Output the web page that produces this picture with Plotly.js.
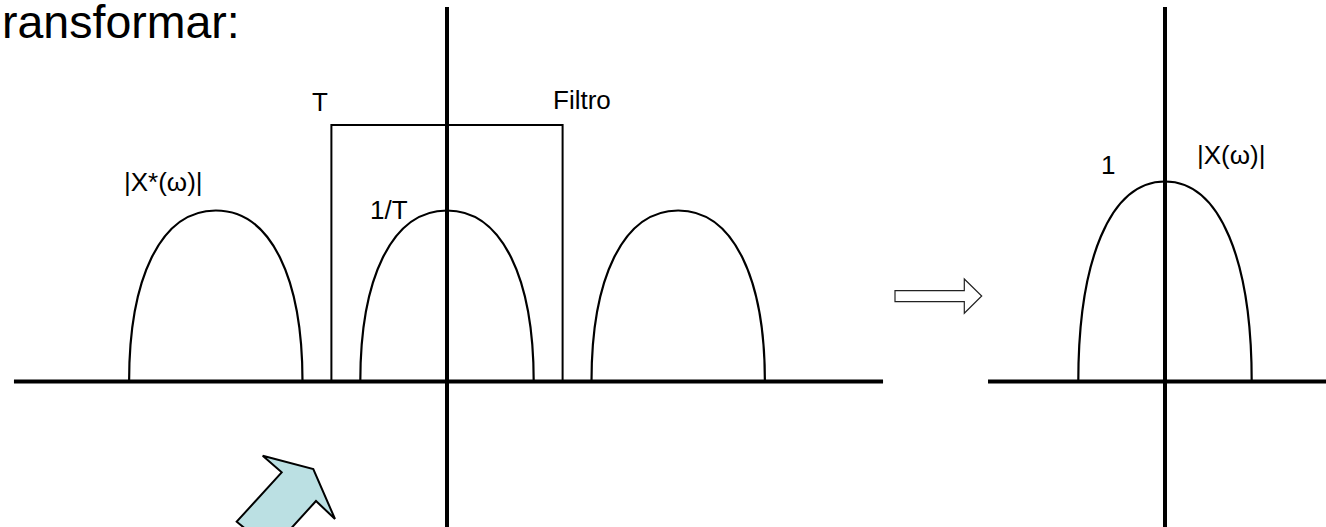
<!DOCTYPE html>
<html><head><meta charset="utf-8">
<script src="https://cdn.plot.ly/plotly-3.0.1.min.js"></script>
<style>html,body{margin:0;padding:0;background:#fff;overflow:hidden}</style>
</head><body><div id="chart" style="width:1326px;height:527px"></div>
<script>
// ---- data (diagram units) ----
// left: sampled spectrum |X*(w)| -> replicas
const replicaCenters = [-2, 0, 2];
const replicaHalfWidth = 0.75;
const replicaHeight = 1;          // 1/T
const filterEdges = [-1, 1];      // ideal low-pass filter
const filterGain = 1.5;           // T
// right: recovered spectrum |X(w)|
const recoveredCenters = [0];
const recoveredHalfWidth = 0.75;
const recoveredHeight = 1;        // 1
// axis line extents
const leftHAxis = [-3.746, 3.772];
const leftVAxis = [-0.9, 2.19];
const rightHAxis = [-1.531, 1.5];
const rightVAxis = [-0.8, 1.8725];
// texts
const titleText = "ransformar:";
const labelTexts = ["T", "Filtro", "1/T", "|X*(\u03c9)|", "1", "|X(\u03c9)|"];

// ---- layout helpers ----
const W = 1326, H = 527;
const SX = 115.6;                 // px per unit, x
const LY = 171, RY = 200;         // px per unit, y (left/right)
const OX_L = 447, OX_R = 1165, OY = 381.5;
const P = (px, py) => [px / W, 1 - py / H];

const FONT = "Liberation Sans, Arial, sans-serif";
const black = "#000";

const traces = [];
function line(x, y, w, xa, ya) {
  traces.push({type: "scatter", mode: "lines", x: x, y: y, xaxis: xa, yaxis: ya,
    line: {color: black, width: w}, hoverinfo: "skip"});
}
// filter rectangle
line([filterEdges[0], filterEdges[0], filterEdges[1], filterEdges[1]],
     [0, filterGain, filterGain, 0], 2, "x", "y");
// axes
line(leftHAxis, [0, 0], 4, "x", "y");
line([0, 0], leftVAxis, 4, "x", "y");
line(rightHAxis, [0, 0], 4, "x2", "y2");
line([0, 0], rightVAxis, 4, "x2", "y2");

function arch(c, w, h) {
  const a = 0.6, b = 0.64;
  return `M${c - w},0 C${c - w},${a * h} ${c - b * w},${h} ${c},${h} C${c + b * w},${h} ${c + w},${a * h} ${c + w},0`;
}
const shapes = [];
replicaCenters.forEach(c => shapes.push({type: "path", xref: "x", yref: "y",
  path: arch(c, replicaHalfWidth, replicaHeight), line: {color: black, width: 2.2}, layer: "below"}));
recoveredCenters.forEach(c => shapes.push({type: "path", xref: "x2", yref: "y2",
  path: arch(c, recoveredHalfWidth, recoveredHeight), line: {color: black, width: 2.2}, layer: "below"}));

// decorative arrows (pixel positions -> paper)
function poly(pts) {
  return "M" + pts.map(p => P(p[0], p[1]).join(",")).join(" L") + " Z";
}
const hollowArrow = [[895, 290.7], [964.3, 290.7], [964.3, 279], [981.7, 296], [964.3, 313.3], [964.3, 301.7], [895, 301.7]];
const blueArrow = [[262.7, 455.7], [313.3, 469], [335, 519], [316, 501], [271.4, 550], [236.7, 521.7], [281.7, 472.3]];
shapes.push({type: "path", xref: "paper", yref: "paper", path: poly(hollowArrow),
  fillcolor: "#fff", line: {color: "#222", width: 1.2}});
shapes.push({type: "path", xref: "paper", yref: "paper", path: poly(blueArrow),
  fillcolor: "#BBE0E3", line: {color: black, width: 2}});

// annotations
const labelPos = [[319.5, 102], [582, 100], [389, 210], [163, 182], [1107.7, 165], [1231, 155]];
const annotations = labelTexts.map((t, i) => {
  const p = P(labelPos[i][0], labelPos[i][1]);
  return {text: t, xref: "paper", yref: "paper", x: p[0], y: p[1], xanchor: "center", yanchor: "middle",
    showarrow: false, font: {family: FONT, size: 26, color: black}};
});
const tp = P(0, 22);
annotations.push({text: titleText, xref: "paper", yref: "paper", x: tp[0], y: tp[1], xanchor: "left", yanchor: "middle",
  showarrow: false, font: {family: FONT, size: 46.5, color: black}});

const layout = {
  width: W, height: H, margin: {l: 0, r: 0, t: 0, b: 0, pad: 0},
  paper_bgcolor: "#fff", plot_bgcolor: "#fff", showlegend: false,
  xaxis: {range: [-OX_L / SX, (W - OX_L) / SX], visible: false, fixedrange: true, domain: [0, 1], anchor: "y"},
  yaxis: {range: [(OY - H) / LY, OY / LY], visible: false, fixedrange: true, domain: [0, 1], anchor: "x"},
  xaxis2: {range: [-OX_R / SX, (W - OX_R) / SX], visible: false, fixedrange: true, overlaying: "x", anchor: "y2"},
  yaxis2: {range: [(OY - H) / RY, OY / RY], visible: false, fixedrange: true, overlaying: "y", anchor: "x2"},
  shapes: shapes, annotations: annotations
};
Plotly.newPlot("chart", traces, layout, {staticPlot: true, displayModeBar: false});
</script></body></html>
